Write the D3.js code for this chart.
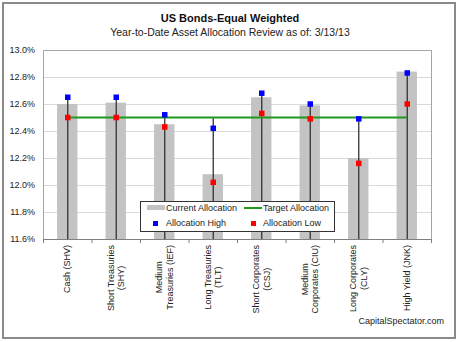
<!DOCTYPE html>
<html><head><meta charset="utf-8">
<script src="https://cdn.jsdelivr.net/npm/d3@7"></script>
<style>html,body{margin:0;padding:0;background:#fff;}svg{display:block;font-family:Arial,"Liberation Sans",sans-serif;}</style>
</head><body>
<svg id="c" width="460" height="342"></svg>
<script>
const categories = [
  ["Cash (SHV)"],
  ["Short Treasuries", "(SHY)"],
  ["Medium", "Treasuries (IEF)"],
  ["Long Treasuries", "(TLT)"],
  ["Short Corporates", "(CSJ)"],
  ["Medium", "Corporates (CIU)"],
  ["Long Corporates", "(CLY)"],
  ["High Yield (JNK)"]
];
const currentAllocation = [12.60, 12.61, 12.45, 12.08, 12.65, 12.59, 12.20, 12.84];
const targetAllocation  = [12.50, 12.50, 12.50, 12.50, 12.50, 12.50, 12.50, 12.50];
const allocationHigh    = [12.65, 12.65, 12.52, 12.42, 12.68, 12.60, 12.49, 12.83];
const allocationLow     = [12.50, 12.50, 12.43, 12.02, 12.53, 12.49, 12.16, 12.60];
const yTicks = [11.6, 11.8, 12.0, 12.2, 12.4, 12.6, 12.8, 13.0];

const svg = d3.select("#c");
const L = 43, R = 431, T = 50, B = 239;

svg.append("rect").attr("x", 3).attr("y", 3).attr("width", 452).attr("height", 335)
  .attr("fill", "#fff").attr("stroke", "#8a8a8a").attr("stroke-width", 2);

const x = d3.scaleBand().domain(d3.range(categories.length)).range([L, R]).padding(0);
const y = d3.scaleLinear().domain([11.6, 13.0]).range([B, T]);

// gridlines
svg.append("g").selectAll("line").data(yTicks.slice(1)).join("line")
  .attr("x1", L).attr("x2", R).attr("y1", d => Math.round(y(d)) + 0.5).attr("y2", d => Math.round(y(d)) + 0.5)
  .attr("stroke", "#d9d9d9").attr("stroke-width", 1);

// plot border
svg.append("rect").attr("x", L + 0.5).attr("y", T + 0.5).attr("width", R - L).attr("height", B - T)
  .attr("fill", "none").attr("stroke", "#a6a6a6");

// y axis labels
const yAxis = d3.axisLeft(y).tickValues(yTicks).tickFormat(d => d.toFixed(1) + "%").tickSize(0).tickPadding(8);
const ya = svg.append("g").attr("transform", `translate(${L},0)`).call(yAxis);
ya.select(".domain").remove();
ya.selectAll("text").attr("font-size", 9).attr("fill", "#222").style("font-family", "Arial, 'Liberation Sans', sans-serif");

// bars
const bw = x.bandwidth() * 0.42;
svg.append("g").selectAll("rect").data(currentAllocation).join("rect")
  .attr("x", (d, i) => x(i) + x.bandwidth() / 2 - bw / 2)
  .attr("y", d => y(d)).attr("width", bw).attr("height", d => B - y(d))
  .attr("fill", "#c3c3c3");

// high-low lines
svg.append("g").selectAll("line").data(categories).join("line")
  .attr("x1", (d, i) => x(i) + x.bandwidth() / 2 + 0.5).attr("x2", (d, i) => x(i) + x.bandwidth() / 2 + 0.5)
  .attr("y1", B)
  .attr("y2", (d, i) => y(Math.max(allocationHigh[i], allocationLow[i], targetAllocation[i])))
  .attr("stroke", "#333").attr("stroke-width", 1.3);

// target line
const line = d3.line().x((d, i) => x(i) + x.bandwidth() / 2).y(d => y(d));
svg.append("path").datum(targetAllocation).attr("d", line)
  .attr("fill", "none").attr("stroke", "#1f9a1f").attr("stroke-width", 2);

// markers
const ms = 5.5;
function markers(data, color) {
  svg.append("g").selectAll("rect").data(data).join("rect")
    .attr("x", (d, i) => x(i) + x.bandwidth() / 2 - ms / 2 + 0.5)
    .attr("y", d => y(d) - ms / 2).attr("width", ms).attr("height", ms).attr("fill", color);
}
markers(allocationHigh, "#0000ff");
markers(allocationLow, "#ff0000");

// x axis ticks
const ticks = d3.range(categories.length + 1).map(i => L + i * x.bandwidth());
svg.append("g").selectAll("line").data(ticks).join("line")
  .attr("x1", d => d + 0.5).attr("x2", d => d + 0.5).attr("y1", B).attr("y2", B + 4)
  .attr("stroke", "#808080");
svg.append("line").attr("x1", L).attr("x2", R + 1).attr("y1", B + 0.5).attr("y2", B + 0.5).attr("stroke", "#808080");

// x labels rotated
const lbl = svg.append("g");
categories.forEach((lines, i) => {
  const cx = x(i) + x.bandwidth() / 2;
  const n = lines.length;
  const lh = 10.5;
  const g = lbl.append("g").attr("transform", `translate(${cx},245) rotate(-90)`);
  // measure first line to center others
  const t0 = g.append("text").attr("font-size", 9).attr("fill", "#222").attr("text-anchor", "end")
    .attr("x", 0).attr("y", -((n - 1) * lh) / 2 + 3).text(lines[0]);
  if (n > 1) {
    const w0 = t0.node().getComputedTextLength();
    const w1 = lines[1].length;
    const tmp = g.append("text").attr("font-size", 9).text(lines[1]);
    const ww = tmp.node().getComputedTextLength();
    tmp.remove();
    const wmax = Math.max(w0, ww);
    t0.attr("text-anchor", "middle").attr("x", -wmax / 2);
    g.append("text").attr("font-size", 9).attr("fill", "#222").attr("text-anchor", "middle")
      .attr("x", -wmax / 2).attr("y", -((n - 1) * lh) / 2 + 3 + lh).text(lines[1]);
  }
});

// titles
svg.append("text").attr("x", 230).attr("y", 22).attr("text-anchor", "middle")
  .attr("font-size", 11).attr("font-weight", "bold").attr("fill", "#111").text("US Bonds-Equal Weighted");
svg.append("text").attr("x", 230).attr("y", 36).attr("text-anchor", "middle")
  .attr("font-size", 10.5).attr("fill", "#222").text("Year-to-Date Asset Allocation Review as of: 3/13/13");

// legend
const lg = svg.append("g");
lg.append("rect").attr("x", 140.5).attr("y", 201.5).attr("width", 194).attr("height", 30)
  .attr("fill", "#fff").attr("stroke", "#333");
lg.append("rect").attr("x", 147).attr("y", 205).attr("width", 18).attr("height", 5).attr("fill", "#c3c3c3");
lg.append("text").attr("x", 166).attr("y", 211).attr("font-size", 9).attr("fill", "#222").text("Current Allocation");
lg.append("line").attr("x1", 244).attr("x2", 262).attr("y1", 208).attr("y2", 208).attr("stroke", "#1f9a1f").attr("stroke-width", 2);
lg.append("text").attr("x", 263).attr("y", 211).attr("font-size", 9).attr("fill", "#222").text("Target Allocation");
lg.append("rect").attr("x", 153).attr("y", 221).attr("width", 5).attr("height", 5).attr("fill", "#0000ff");
lg.append("text").attr("x", 166).attr("y", 226).attr("font-size", 9).attr("fill", "#222").text("Allocation High");
lg.append("rect").attr("x", 251).attr("y", 221).attr("width", 5).attr("height", 5).attr("fill", "#ff0000");
lg.append("text").attr("x", 263).attr("y", 226).attr("font-size", 9).attr("fill", "#222").text("Allocation Low");

// footnote
svg.append("text").attr("x", 444).attr("y", 324).attr("text-anchor", "end")
  .attr("font-size", 9).attr("fill", "#222").text("CapitalSpectator.com");
</script>
</body></html>
